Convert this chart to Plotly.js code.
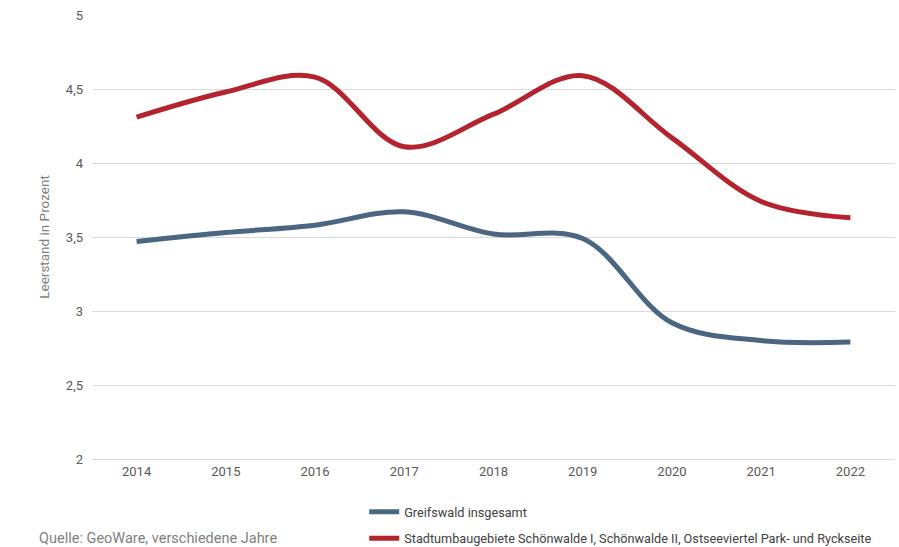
<!DOCTYPE html>
<html>
<head>
<meta charset="utf-8">
<script src="https://cdn.plot.ly/plotly-3.0.1.min.js"></script>
<style>
html,body{margin:0;padding:0;background:#fff;}
#chart{width:899px;height:547px;}
</style>
</head>
<body>
<div id="chart"></div>
<script>
var years = ["2014","2015","2016","2017","2018","2019","2020","2021","2022"];
var greifswald = [3.47, 3.53, 3.58, 3.67, 3.52, 3.49, 2.92, 2.80, 2.79];
var stadtumbau = [4.31, 4.48, 4.58, 4.11, 4.33, 4.59, 4.17, 3.74, 3.63];
var seriesNames = ["Greifswald insgesamt", "Stadtumbaugebiete Schönwalde I, Schönwalde II, Ostseeviertel Park- und Ryckseite"];
var yTickVals = [2, 2.5, 3, 3.5, 4, 4.5, 5];
var yTickText = ["2", "2,5", "3", "3,5", "4", "4,5", "5"];
var sourceText = "Quelle: GeoWare, verschiedene Jahre";
var yTitle = "Leerstand in Prozent";

var fontFam = "Roboto, 'Liberation Sans', Arial, sans-serif";
var traces = [
  {x: years, y: greifswald, name: seriesNames[0], type: "scatter", mode: "lines", legendgroup: "a",
   line: {color: "#4a6680", width: 5, shape: "spline", smoothing: 1}},
  {x: years, y: stadtumbau, name: seriesNames[1], type: "scatter", mode: "lines", legendgroup: "b",
   line: {color: "#b3242e", width: 5, shape: "spline", smoothing: 1}}
];
var layout = {
  width: 899, height: 547,
  margin: {l: 92, r: 4, t: 15, b: 88, autoexpand: false},
  paper_bgcolor: "#fff", plot_bgcolor: "#fff",
  font: {family: fontFam, size: 13, color: "#595959"},
  showlegend: true,
  legend: {x: 0.339, xanchor: "left", y: -0.0856, yanchor: "top", orientation: "v",
           font: {size: 12.7, color: "#404040"}, tracegroupgap: 7, itemwidth: 30,
           bgcolor: "rgba(0,0,0,0)"},
  xaxis: {type: "category", range: [-0.5, 8.5], showgrid: false, zeroline: false,
          showline: true, linecolor: "#d9d9d9", linewidth: 1, ticks: "",
          tickfont: {size: 13, color: "#595959"}, fixedrange: true},
  yaxis: {range: [2, 5], tickvals: yTickVals, ticktext: yTickText,
          showgrid: true, gridcolor: "#d9d9d9", gridwidth: 1, zeroline: false,
          showline: false, ticks: "", ticklabelstandoff: 8,
          tickfont: {size: 13, color: "#595959"},
          title: {text: yTitle, font: {size: 13.5, color: "#7f7f7f"}, standoff: 13}},
  annotations: [
    {text: sourceText, xref: "paper", yref: "paper", x: -0.0685, y: -0.178,
     xanchor: "left", yanchor: "middle", showarrow: false,
     font: {size: 14.5, color: "#7f7f7f"}}
  ]
};
Plotly.newPlot("chart", traces, layout, {displayModeBar: false, staticPlot: true});
</script>
</body>
</html>
